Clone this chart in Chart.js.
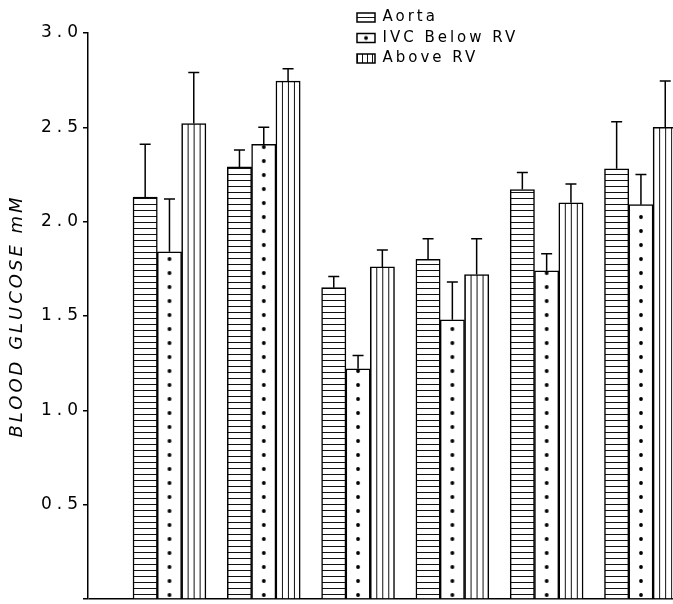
<!DOCTYPE html>
<html>
<head>
<meta charset="utf-8">
<script src="https://cdn.jsdelivr.net/npm/chart.js@4/dist/chart.umd.min.js"></script>
<style>
html,body{margin:0;padding:0;background:#fff;overflow:hidden}
#wrap{width:673px;height:604px;position:relative;background:#fff}
</style>
</head>
<body>
<div id="wrap"><canvas id="c" width="673" height="604"></canvas></div>
<script>
// ---- data ----
const groups = ['1', '2', '3', '4', '5', '6'];
const seriesNames = ['Aorta', 'IVC Below RV', 'Above RV'];
const aorta    = [2.13, 2.29, 1.65, 1.80, 2.17, 2.28];
const aortaErr = [0.28, 0.09, 0.06, 0.11, 0.09, 0.25];
const ivc      = [1.84, 2.41, 1.22, 1.48, 1.74, 2.09];
const ivcErr   = [0.28, 0.09, 0.07, 0.20, 0.09, 0.16];
const above    = [2.52, 2.745, 1.76, 1.72, 2.10, 2.50];
const aboveErr = [0.27, 0.065, 0.09, 0.19, 0.10, 0.245];
const yTickLabels = ['', '0.5', '1.0', '1.5', '2.0', '2.5', '3.0'];
const yTitle = 'BLOOD GLUCOSE mM';

// ---- layout / style constants ----
const BAR_W = 24.3;
const CAP_HALF = 5.5;
const AXIS_W = 88;
const X_MIN = -0.864, X_MAX = 5.340;
const LEG_X = 351.5, LEG_Y = 4.5, LEG_PAD = 5.5, LEG_FONT = 15, BOX_W = 18, BOX_H = 9;
const FONT = 'DejaVu Sans';

const mainCtx = document.getElementById('c').getContext('2d');

function makeCanvas(w, h) {
  const c = document.createElement('canvas');
  c.width = w; c.height = h;
  const g = c.getContext('2d');
  g.fillStyle = '#fff'; g.fillRect(0, 0, w, h);
  return [c, g];
}
function makePattern(kind, dx, dy, legend) {
  let c, g;
  if (kind === 'h') {
    [c, g] = makeCanvas(4, legend ? 9 : 6);
    g.fillStyle = '#111';
    g.fillRect(0, legend ? 4 : 0, 4, 1);
  } else if (kind === 'dot') {
    [c, g] = legend ? makeCanvas(18, 9) : makeCanvas(24, 14);
    g.fillStyle = '#000';
    g.beginPath();
    if (legend) g.arc(9, 4.5, 1.9, 0, Math.PI * 2);
    else g.arc(12, 7, 1.9, 0, Math.PI * 2);
    g.fill();
  } else {
    [c, g] = makeCanvas(legend ? 5 : 6, 4);
    g.fillStyle = '#111';
    g.fillRect(0, 0, 1, 4);
  }
  const p = mainCtx.createPattern(c, 'repeat');
  p.setTransform(new DOMMatrix().translate(dx, dy));
  return p;
}
const kinds = ['h', 'dot', 'v'];

function barFill(kind, dsIndex) {
  return (c) => {
    if (c.type !== 'data') return '#fff';
    const xs = c.chart.scales.x;
    const xv = c.parsed ? c.parsed.x : c.dataIndex;
    const left = xs.getPixelForValue(xv) - 1.5 * BAR_W + dsIndex * BAR_W;
    const dx = kind === 'dot' ? left + (BAR_W - 24) / 2 : left;
    return makePattern(kind, dx, 0, false);
  };
}

const seriesValues = [aorta, ivc, above];
const seriesErrors = [aortaErr, ivcErr, aboveErr];
const datasets = seriesNames.map((name, k) => ({
  label: name,
  data: seriesValues[k].map((v, i) => ({x: i, y: v})),
  errors: seriesErrors[k],
  backgroundColor: barFill(kinds[k], k),
  borderColor: '#000',
  borderWidth: 1.5,
  borderSkipped: 'start'
}));

const errorBars = {
  id: 'errorBars',
  afterDatasetsDraw(chart) {
    const ctx = chart.ctx, y = chart.scales.y;
    ctx.save();
    ctx.strokeStyle = '#000';
    ctx.lineWidth = 1.5;
    chart.data.datasets.forEach((ds, di) => {
      const meta = chart.getDatasetMeta(di);
      meta.data.forEach((bar, i) => {
        const top = y.getPixelForValue(ds.data[i].y + ds.errors[i]);
        ctx.beginPath();
        ctx.moveTo(bar.x, bar.y);
        ctx.lineTo(bar.x, top);
        ctx.moveTo(bar.x - CAP_HALF, top);
        ctx.lineTo(bar.x + CAP_HALF, top);
        ctx.stroke();
      });
    });
    ctx.restore();
  }
};

function withSpacing(obj, fn, sp) {
  const orig = obj[fn].bind(obj);
  obj[fn] = function(...a) {
    const ctx = obj.ctx;
    const prev = ctx.letterSpacing;
    ctx.letterSpacing = sp;
    orig(...a);
    ctx.letterSpacing = prev || '0px';
  };
}
const spacingPlugin = {
  id: 'spacing',
  afterLayout(chart) {
    const L = chart.legend;
    if (L) {
      L.left = LEG_X; L.top = LEG_Y;
      L.right = chart.width; L.width = L.right - L.left;
      L.height = L.bottom - L.top;
    }
  },
  afterUpdate(chart) {
    const ys = chart.scales.y;
    if (ys && !ys.$sp) { ys.$sp = true; withSpacing(ys, 'drawLabels', '5px'); withSpacing(ys, 'drawTitle', '3px'); }
    const L = chart.legend;
    if (L && !L.$sp) { L.$sp = true; withSpacing(L, 'draw', '3px'); }
  }
};

const chart = new Chart(document.getElementById('c'), {
  type: 'bar',
  data: { labels: groups, datasets },
  plugins: [errorBars, spacingPlugin],
  options: {
    responsive: false,
    animation: false,
    devicePixelRatio: 1,
    layout: { padding: { left: 0, right: 0, top: 33, bottom: 5 } },
    datasets: { bar: { barThickness: BAR_W, grouped: true } },
    plugins: {
      tooltip: { enabled: false },
      legend: {
        position: 'chartArea',
        align: 'start',
        labels: {
          color: '#000',
          boxWidth: BOX_W,
          boxHeight: BOX_H,
          padding: LEG_PAD,
          font: { family: FONT, size: LEG_FONT },
          generateLabels(ch) {
            const items = Chart.defaults.plugins.legend.labels.generateLabels(ch);
            items.forEach((it, i) => {
              const bx = LEG_X + LEG_PAD;
              const by = LEG_Y + LEG_PAD + i * (Math.max(LEG_FONT, BOX_H) + LEG_PAD) + (LEG_FONT - BOX_H) / 2;
              it.fillStyle = makePattern(kinds[i], bx, by, true);
              it.strokeStyle = '#000';
              it.lineWidth = 1.5;
            });
            return items;
          }
        }
      }
    },
    scales: {
      x: {
        type: 'linear',
        min: X_MIN,
        max: X_MAX,
        bounds: 'data',
        offset: false,
        display: false,
        ticks: { stepSize: 1 },
        grid: { display: false, offset: false }
      },
      y: {
        min: 0,
        max: 3,
        ticks: {
          stepSize: 0.5,
          color: '#000',
          padding: 0,
          font: { family: FONT, size: 17 },
          callback: (v, i) => yTickLabels[i]
        },
        grid: {
          drawOnChartArea: true,
          color: (c) => (c.tick && c.tick.value === 0 ? '#000' : 'rgba(0,0,0,0)'),
          lineWidth: 1.5,
          tickColor: '#000',
          tickLength: 5
        },
        border: { display: true, color: '#000', width: 1.5 },
        title: {
          display: true,
          text: yTitle,
          color: '#000',
          padding: { top: 7, bottom: 0 },
          font: { family: FONT, size: 18, style: 'italic', weight: 'normal' }
        },
        afterFit(s) { s.width = AXIS_W; s.paddingTop = 0; s.paddingBottom = 0; }
      }
    }
  }
});
chart.draw();
</script>
</body>
</html>
